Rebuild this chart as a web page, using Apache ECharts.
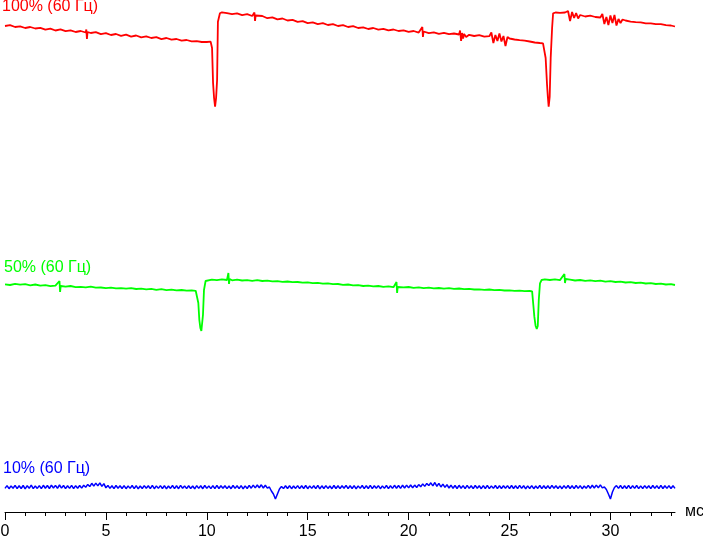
<!DOCTYPE html>
<html>
<head>
<meta charset="utf-8">
<script src="https://cdn.jsdelivr.net/npm/echarts@6.0.0/dist/echarts.min.js"></script>
<style>
html,body{margin:0;padding:0;background:#fff;}
#chart{width:703px;height:540px;}
</style>
</head>
<body>
<div id="chart"></div>
<script>
// ---- data (time in ms, level in arbitrary units) ----
const majorTicks = [0, 5, 10, 15, 20, 25, 30];
const minorTicks = [0,1,2,3,4,5,6,7,8,9,10,11,12,13,14,15,16,17,18,19,20,21,22,23,24,25,26,27,28,29,30,31,32,33];
const axisMax = 33.2;
const axisUnit = 'мс';

const labels = ['100% (60 Гц)', '50% (60 Гц)', '10% (60 Гц)'];
const colors = ['#ff0000', '#00ff00', '#0000ff'];

const red100 = [[0,486],[0.25,486.8],[0.5,485],[0.75,485.6],[1,484],[1.25,485],[1.5,483.5],[1.75,484.2],[2,482.3],[2.25,483.4],[2.5,481.5],[2.75,482.6],[3,480.8],[3.25,481.7],[3.5,480],[3.75,481],[4,479.5],[4.03,482.5],[4.06,473],[4.09,480],[4.25,479],[4.5,479.8],[4.75,477.8],[5,478.9],[5.25,477],[5.5,478],[5.75,476.2],[6,477.3],[6.25,475.4],[6.5,476.5],[6.75,474.6],[7,475.6],[7.25,474],[7.5,474.8],[7.75,472.9],[8,474],[8.25,472.3],[8.5,473],[8.75,471.4],[9,472],[9.25,470.6],[9.5,470.9],[9.75,470],[10,470],[10.19,470.3],[10.26,464],[10.31,429],[10.36,414],[10.41,405.3],[10.46,414],[10.51,432],[10.55,490.3],[10.65,498.7],[10.75,499.7],
[11,498.9],[11.25,497.8],[11.5,498.6],[11.75,496.9],[12,497.8],[12.25,496],[12.36,499.5],[12.39,491],[12.42,496.5],[12.5,495.4],[12.75,496],[13,493.8],[13.25,494.7],[13.5,492.7],[13.75,493.5],[14,491.5],[14.25,492.2],[14.5,490.2],[14.75,490.9],[15,488.8],[15.25,489.6],[15.5,487.9],[15.75,488.8],[16,487],[16.25,487.9],[16.5,486],[16.75,486.9],[17,485],[17.25,485.8],[17.5,484],[17.75,484.7],[18,483],[18.25,484],[18.5,482.4],[18.75,483.2],[19,481.6],[19.25,482.5],[19.5,481],[19.75,481.7],[20,480.2],[20.25,481],[20.5,479.4],[20.68,485],[20.71,475],[20.74,480.5],[21,478.8],[21.25,479.7],[21.5,478.2],[21.75,479.2],[22,477.8],[22.25,478.5],[22.5,477.5],[22.55,481.5],[22.6,471],[22.65,479],[22.7,473.5],[22.75,478],[22.85,475],[23,477.2],[23.25,476],[23.5,476.8],[23.75,475.4],[24,475.8],[24.1,479.5],[24.2,469],[24.3,477],[24.4,471],[24.5,478.5],[24.6,470.5],[24.7,476],[24.8,466],[24.9,475],[25,473.5],[25.25,472.5],[25.5,471.8],[25.75,471.3],[26,470.5],[26.25,469.5],[26.5,469],[26.66,468.7],[26.73,469],[26.79,454],[26.86,427],[26.9,415],[26.94,405.3],[26.99,415],[27.04,454],[27.11,484],[27.16,498.7],[27.28,499.5],
[27.5,499.2],[27.75,499.5],[27.9,501],[28,491],[28.1,500],[28.2,494],[28.3,499],[28.4,493.5],[28.5,497],[28.75,495.5],[29,496.3],[29.25,495],[29.5,494.5],[29.6,498],[29.7,488],[29.8,495],[29.9,487],[30,496.5],[30.1,489],[30.2,497],[30.3,486.5],[30.4,493],[30.5,489],[30.6,492.5],[30.75,491.5],[31,490.4],[31.25,489.8],[31.5,489.7],[31.75,488.6],[32,488.6],[32.25,487.8],[32.5,487.9],[32.75,486.8],[33,486.5],[33.2,485.5]];

const green50 = [[0,227.7],[0.25,227],[0.5,228.2],[0.75,227.3],[1,227.8],[1.25,226.7],[1.5,227.5],[1.75,226.3],[2,226.9],[2.25,225.8],[2.5,226.4],[2.7,231],[2.73,220],[2.76,226],[3,225.4],[3.25,226],[3.5,224.9],[3.75,225.2],[4,224.6],[4.25,225.3],[4.5,224.4],[4.75,224.5],[5,223.8],[5.25,224.4],[5.5,223.6],[5.75,223.9],[6,223.3],[6.25,223.9],[6.5,223],[6.75,223.4],[7,222.6],[7.25,223.1],[7.5,222.2],[7.75,222.8],[8,221.9],[8.25,222.4],[8.5,221.6],[8.75,222],[9,221.3],[9.25,221.6],[9.45,221.2],[9.5,220.3],[9.58,209],[9.63,192],[9.68,184],[9.73,181],[9.78,182],[9.81,197],[9.86,222],[9.94,231],[10.01,232],
[10.25,232.4],[10.5,231.8],[10.75,232.6],[11,232],[11.07,239],[11.1,228],[11.13,233],[11.25,231.7],[11.5,232.3],[11.75,231.5],[12,231.9],[12.25,231.2],[12.5,231.8],[12.75,231],[13,231.3],[13.25,230.6],[13.5,230.9],[13.75,230.2],[14,230.5],[14.25,229.8],[14.5,230],[14.75,229.4],[15,229.7],[15.25,228.8],[15.5,229.2],[15.75,228.3],[16,228.7],[16.25,227.8],[16.5,228],[16.75,227.2],[17,227.5],[17.25,226.7],[17.5,226.9],[17.75,226],[18,226.4],[18.25,225.6],[18.5,226],[18.75,225.2],[19,225.6],[19.25,224.8],[19.4,230],[19.43,219],[19.46,225],[19.75,224.6],[20,225],[20.25,224.2],[20.5,224.6],[20.75,223.8],[21,224.3],[21.25,223.7],[21.5,224],[21.75,223.4],[22,223.8],[22.25,223.2],[22.5,223.5],[22.75,222.8],[23,223.1],[23.25,222.5],[23.5,222.7],[23.75,222.2],[24,222.5],[24.25,221.9],[24.5,222.1],[24.75,221.5],[25,221.7],[25.25,221.2],[25.5,221.3],[25.75,220.8],[26,221],[26.12,220.7],[26.15,221],[26.18,207],[26.23,195.3],[26.29,186.3],[26.35,183],[26.4,186],[26.45,212],[26.51,228.7],[26.59,232],
[26.75,232.7],[27,232],[27.25,232.6],[27.5,231.9],[27.72,238],[27.75,229],[27.78,233],[28,232.3],[28.25,231.5],[28.5,232],[28.75,231.2],[29,231.6],[29.25,230.9],[29.5,231.3],[29.75,230.4],[30,230.8],[30.25,230],[30.5,230.3],[30.75,229.5],[31,229.9],[31.25,229],[31.5,229.4],[31.75,228.5],[32,228.9],[32.25,228],[32.5,228.3],[32.75,227.5],[33,227.8],[33.2,227]];

// 10% trace: one sample every 0.1 ms starting at 0 ms
const blueStep = 0.1;
const blue10 = [
23.6,26.4,23.3,26.1,23.8,26.6,23.4,26.2,23.5,26.5,
23.2,26.3,23.7,26.8,23.4,26.0,23.6,26.4,23.3,26.7,
23.8,26.5,23.5,26.9,24.0,26.6,23.7,27.0,23.9,26.5,
23.4,26.2,23.6,26.6,23.3,26.3,23.7,26.5,23.9,26.8,
24.8,27.6,25.4,28.7,25.9,28.9,26.1,29.2,25.6,28.3,
24.2,26.6,23.6,26.3,23.4,26.5,23.8,26.2,23.5,26.4,
23.3,26.1,23.6,26.5,23.4,26.3,23.2,26.0,23.5,26.4,
23.7,26.2,23.4,26.6,23.3,26.1,23.6,26.4,23.5,26.3,
23.2,26.0,23.6,26.5,23.4,26.2,23.3,26.6,23.7,26.1,
23.4,26.3,23.5,26.0,23.2,26.4,23.6,26.2,23.3,26.5,
23.6,26.1,23.4,26.4,23.3,26.6,23.5,26.2,23.7,26.3,
23.4,26.0,23.3,26.5,23.6,26.2,23.4,26.4,23.2,26.1,
23.5,26.6,23.8,26.9,24.1,27.0,24.3,27.2,24.0,26.8,
23.9,25.0,21.0,18.0,13.0,18.0,23.0,25.5,23.4,26.2,
23.5,26.3,23.3,26.0,23.6,26.4,23.4,26.2,23.5,26.5,
23.3,26.1,23.6,26.3,23.4,26.6,23.2,26.2,23.5,26.4,
23.6,26.0,23.3,26.5,23.5,26.2,23.4,26.3,23.7,26.6,
23.4,26.2,23.5,26.4,23.2,26.1,23.6,26.5,23.3,26.3,
23.5,26.6,23.4,26.2,23.7,26.4,23.3,26.1,23.6,26.5,
23.4,26.3,23.6,26.7,23.8,26.5,23.6,26.8,24.0,26.9,
24.1,27.0,24.3,26.9,24.5,27.4,25.3,28.1,25.6,28.6,
26.4,29.2,26.1,29.5,25.7,28.6,25.0,27.9,24.6,27.3,
24.0,26.8,23.7,26.5,23.5,26.7,23.8,26.4,23.4,26.6,
23.6,26.3,23.4,26.5,23.7,26.2,23.3,26.4,23.5,26.6,
23.4,26.1,23.6,26.5,23.3,26.3,23.5,26.2,23.7,26.4,
23.3,26.5,23.5,26.2,23.4,26.6,23.6,26.3,23.2,26.1,
23.5,26.4,23.3,26.0,23.6,26.5,23.4,26.3,23.5,26.2,
23.4,26.6,23.7,26.3,23.5,26.1,23.3,26.4,23.6,26.5,
23.5,26.2,23.4,26.5,23.6,26.3,23.3,26.0,23.7,26.6,
23.8,26.7,24.0,26.9,24.2,27.2,24.1,25.0,22.5,18.0,
13.0,20.0,24.5,26.4,23.6,26.5,23.4,26.2,23.5,26.6,
23.3,26.3,23.6,26.5,23.4,26.1,23.5,26.4,23.7,26.2,
23.4,26.5,23.6,26.3,23.3,26.6,23.5,26.2,23.6,26.4,
23.5,26.3,23.6
];

// ---- chart ----
const bluePairs = blue10.map((v, i) => [Math.round(i * blueStep * 100) / 100, v]);
const FONT = '"Liberation Sans", Arial, sans-serif';

const chart = echarts.init(document.getElementById('chart'), null, {renderer: 'canvas'});
chart.setOption({
  animation: false,
  backgroundColor: '#ffffff',
  grid: {left: 5, right: 28, top: 0, bottom: 28, containLabel: false, outerBoundsMode: 'none'},
  xAxis: [
    {
      type: 'value', min: 0, max: axisMax, position: 'bottom',
      name: axisUnit, nameLocation: 'end', nameGap: 10,
      nameTextStyle: {fontSize: 16, color: '#000', fontFamily: FONT, verticalAlign: 'middle'},
      axisLine: {show: true, lineStyle: {color: '#000', width: 1}},
      axisTick: {show: true, length: 8, customValues: majorTicks, lineStyle: {color: '#000', width: 1}},
      axisLabel: {show: true, customValues: majorTicks, fontSize: 16, color: '#000', fontFamily: FONT, margin: 12},
      splitLine: {show: false}
    },
    {
      type: 'value', min: 0, max: axisMax, position: 'bottom', gridIndex: 0,
      axisLine: {show: false},
      axisTick: {show: true, length: 4, customValues: minorTicks, lineStyle: {color: '#000', width: 1}},
      axisLabel: {show: false},
      splitLine: {show: false}
    }
  ],
  yAxis: {type: 'value', min: 0, max: 512, show: false, splitLine: {show: false}},
  graphic: [
    {type: 'text', x: 2, y: 7, style: {text: labels[0], fill: colors[0], font: '16px ' + FONT, verticalAlign: 'middle'}},
    {type: 'text', x: 4, y: 267.5, style: {text: labels[1], fill: colors[1], font: '16px ' + FONT, verticalAlign: 'middle'}},
    {type: 'text', x: 3, y: 469, style: {text: labels[2], fill: colors[2], font: '16px ' + FONT, verticalAlign: 'middle'}}
  ],
  series: [
    {name: labels[0], type: 'line', data: red100, showSymbol: false, symbol: 'none', lineStyle: {color: colors[0], width: 1.8}, xAxisIndex: 0, z: 3},
    {name: labels[1], type: 'line', data: green50, showSymbol: false, symbol: 'none', lineStyle: {color: colors[1], width: 1.8}, xAxisIndex: 0, z: 3},
    {name: labels[2], type: 'line', data: bluePairs, showSymbol: false, symbol: 'none', lineStyle: {color: colors[2], width: 1.5}, xAxisIndex: 0, z: 3}
  ]
});
</script>
</body>
</html>
